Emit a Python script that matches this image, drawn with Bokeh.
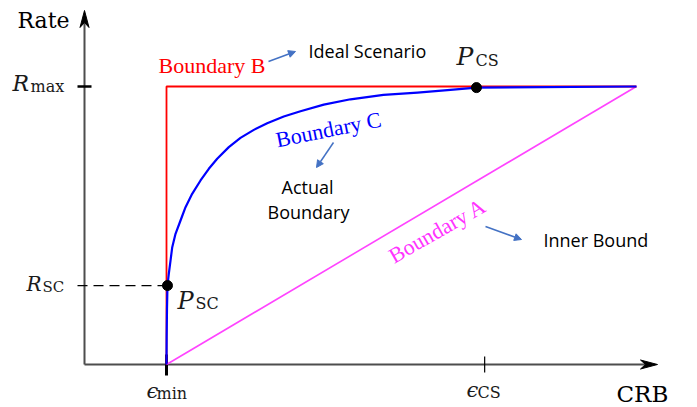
from bokeh.plotting import figure
from bokeh.models import Range1d, Label, Arrow, NormalHead
from bokeh.embed import file_html
from bokeh.resources import INLINE

# ---------------- data ----------------
eps_min = 1.0          # CRB at the sensing-centric point
eps_cs = 4.88          # CRB at the communication-centric point
crb_end = 6.73         # right end of the boundaries
R_max = 1.0
R_SC = 0.284

# Boundary B (ideal)
b_x = [eps_min, eps_min, crb_end]
b_y = [0.0, R_max, R_max]
# Boundary A (inner bound)
a_x = [eps_min, crb_end]
a_y = [0.0, R_max]
# Boundary C (actual)
c_x = [1.0, 1.002, 1.006, 1.012, 1.028, 1.049, 1.070, 1.110, 1.171, 1.232,
       1.313, 1.415, 1.516, 1.618, 1.760, 1.902, 2.065, 2.228, 2.430, 2.634,
       2.918, 3.244, 3.646, 4.061, 4.463, 4.780, 6.732]
c_y = [0.0, 0.10, 0.20, 0.284, 0.326, 0.374, 0.422, 0.470, 0.518, 0.566,
       0.614, 0.662, 0.704, 0.740, 0.782, 0.815, 0.844, 0.868, 0.892, 0.911,
       0.935, 0.954, 0.970, 0.978, 0.988, 0.996, 1.0]
pts_x = [1.012, 4.78]
pts_y = [R_SC, 0.996]

# ---------------- layout helpers (reference pixels -> data) ----------------
X0, SX = 84.0, 82.0
Y0, SY = 364.0, 278.0
W, H = 697, 407
OFF = 0
TXT_SHIFT = 7   # label baseline correction (px)


def fx(px):
    return (px - X0) / SX


def fy(py):
    return (Y0 - py) / SY


p = figure(width=W, height=H, output_backend="svg", toolbar_location=None,
           x_range=Range1d(fx(OFF), fx(OFF + W)), y_range=Range1d(fy(OFF + H), fy(OFF)),
           min_border=0, min_border_left=0, min_border_right=0,
           min_border_top=0, min_border_bottom=0)
p.axis.visible = False
p.grid.visible = False
p.outline_line_color = None
p.background_fill_color = "white"
p.border_fill_color = "white"

AX = "#4d4d4d"
# axes
y_tip = fy(10)
x_tip = fx(657)
L_y = 17 / SY
L_x = 17 / SX
p.line([0, 0], [0, y_tip - L_y + 5 / SY], line_color=AX, line_width=2)
p.line([0, x_tip - L_x + 5 / SX], [0, 0], line_color=AX, line_width=2)
p.patch([0, -4.5 / SX, 0, 4.5 / SX], [y_tip, y_tip - L_y, y_tip - L_y + 5 / SY, y_tip - L_y],
        fill_color="black", line_color="black", line_width=1)
p.patch([x_tip, x_tip - L_x, x_tip - L_x + 5 / SX, x_tip - L_x], [0, 4.5 / SY, 0, -4.5 / SY],
        fill_color="black", line_color="black", line_width=1)

# ticks
p.line([-7 / SX, 7 / SX], [R_max, R_max], line_color="black", line_width=2.5)
p.line([eps_min, eps_min], [10 / SY, -11 / SY], line_color="black", line_width=3)
p.line([eps_cs, eps_cs], [8 / SY, -8 / SY], line_color="black", line_width=1.2)

# dashed guide to R_SC
p.line([-7 / SX, pts_x[0]], [R_SC, R_SC], line_color="black", line_width=1.3, line_dash="10 6")

# boundaries
p.line(a_x, a_y, line_color="#ff44ff", line_width=1.6)
p.line(b_x, b_y, line_color="#ff0000", line_width=1.8)
p.line(c_x, c_y, line_color="#0000ff", line_width=2.2, line_join="round")
p.scatter(pts_x, pts_y, size=10, fill_color="black", line_color="black")


def lab(text, px, py, size, font="DejaVu Serif", style="normal", color="#1a1a1a",
        align="left", baseline="alphabetic", angle=0.0):
    p.add_layout(Label(x=fx(px), y=fy(py - TXT_SHIFT), text=text, text_font=font,
                       text_font_size=f"{size}px", text_font_style=style,
                       text_color=color, text_align=align, text_baseline=baseline,
                       angle=angle))


# axis titles
lab("Rate", 17, 27, 22, color="black")
lab("CRB", 616, 400, 23, color="black")
# math labels
lab("R", 12, 90, 22, style="italic")
lab("max", 30, 93, 16)
lab("R", 26, 290, 20, style="italic")
lab("SC", 42, 293, 15)
lab("P", 177, 307, 24, style="italic")
lab("SC", 195, 310, 16)
lab("P", 456, 63, 25, style="italic")
lab("CS", 475, 67, 16)
lab("\u03f5", 146, 397, 21, style="italic")
lab("min", 156, 400, 16)
lab("\u03f5", 466, 396, 21, style="italic")
lab("CS", 477, 399, 16)

# boundary names
lab("Boundary B", 158, 72, 22, font="Liberation Serif", color="#ff0000")
lab("Boundary C", 328, 136, 22, font="Liberation Serif", color="#0000ff",
    align="center", angle=0.2)
lab("Boundary A", 437, 237, 22, font="Liberation Serif", color="#ff33ff",
    align="center", angle=0.52)

# annotations
lab("Ideal Scenario", 308, 57, 18, font="Open Sans", color="black")
lab("Actual", 307, 193, 18, font="Open Sans", color="black", align="center")
lab("Boundary", 308, 218, 18, font="Open Sans", color="black", align="center")
lab("Inner Bound", 543, 246, 18, font="Open Sans", color="black")

ARC = "#4472c4"
for (sx0, sy0, sx1, sy1) in [(268, 61, 295, 51), (333, 142, 316, 167), (485, 226, 521, 239)]:
    p.add_layout(Arrow(end=NormalHead(size=7, fill_color=ARC, line_color=ARC),
                       x_start=fx(sx0), y_start=fy(sy0), x_end=fx(sx1), y_end=fy(sy1),
                       line_color=ARC, line_width=1.5))

open("out.html", "w").write(file_html(p, INLINE))
